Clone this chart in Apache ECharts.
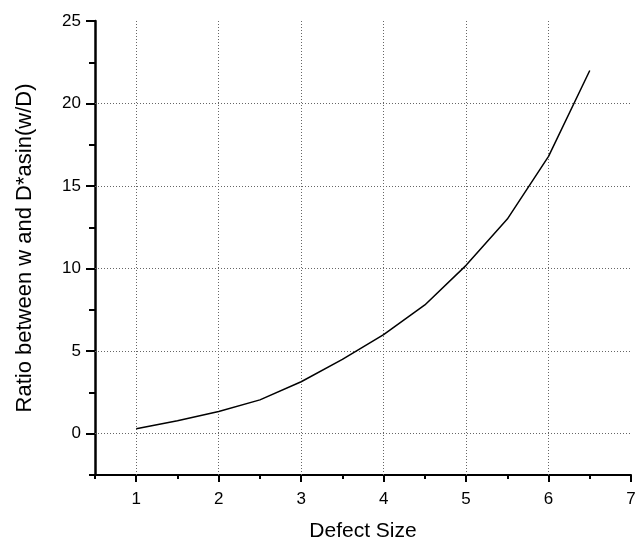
<!DOCTYPE html>
<html>
<head>
<meta charset="utf-8">
<script src="https://cdn.jsdelivr.net/npm/echarts@6/dist/echarts.min.js"></script>
<style>html,body{margin:0;padding:0;background:#fff;}#c{width:635px;height:540px;}</style>
</head>
<body>
<div id="c"></div>
<script>
// Data
const defectSize = [1, 1.5, 2, 2.5, 3, 3.5, 4, 4.5, 5, 5.5, 6, 6.5];
const ratio = [0.3, 0.78, 1.35, 2.05, 3.15, 4.5, 6.0, 7.8, 10.2, 13.0, 16.8, 22.0];
const xMajorTicks = [1, 2, 3, 4, 5, 6, 7];
const xMinorTicks = [0.5, 1.5, 2.5, 3.5, 4.5, 5.5, 6.5];
const yMajorTicks = [0, 5, 10, 15, 20, 25];
const yMinorTicks = [-2.5, 2.5, 7.5, 12.5, 17.5, 22.5];
const gridX = [1, 2, 3, 4, 5, 6];
const gridY = [0, 5, 10, 15, 20];

const font = 'Liberation Sans, Arial, sans-serif';
const chart = echarts.init(document.getElementById('c'), null, {renderer: 'canvas'});

function tickAxis(values, len) {
  return {
    type: 'value', min: 0.5, max: 7, position: 'bottom',
    axisLine: {show: false, onZero: false},
    axisTick: {show: true, inside: false, customValues: values, length: len, lineStyle: {color: '#000', width: 2}},
    axisLabel: {show: false},
    splitLine: {show: false}
  };
}
const mainX = {
  type: 'value', min: 0.5, max: 7, position: 'bottom',
  name: 'Defect Size', nameLocation: 'middle', nameGap: 46,
  nameTextStyle: {fontFamily: font, fontSize: 21, color: '#000'},
  axisLine: {show: true, onZero: false, lineStyle: {color: '#000', width: 2}},
  axisTick: {show: false},
  axisLabel: {show: true, customValues: xMajorTicks, margin: 16, fontFamily: font, fontSize: 17, color: '#000'},
  splitLine: {show: false}
};
const majorY = {
  type: 'value', min: -2.5, max: 25, position: 'left',
  name: 'Ratio between w and D*asin(w/D)', nameLocation: 'middle', nameGap: 59,
  nameTextStyle: {fontFamily: font, fontSize: 22, color: '#000'},
  axisLine: {show: true, onZero: false, lineStyle: {color: '#000', width: 2.5}},
  axisTick: {show: true, customValues: yMajorTicks, length: 9, lineStyle: {color: '#000', width: 2}},
  axisLabel: {show: true, customValues: yMajorTicks, margin: 14, fontFamily: font, fontSize: 17, color: '#000'},
  splitLine: {show: false}
};
const minorY = {
  type: 'value', min: -2.5, max: 25, position: 'left',
  axisLine: {show: false, onZero: false},
  axisTick: {show: true, customValues: yMinorTicks, length: 6, lineStyle: {color: '#000', width: 2}},
  axisLabel: {show: false},
  splitLine: {show: false}
};

const gridLineStyle = {color: '#666', width: 1, type: [1, 2]};

chart.setOption({
  animation: false,
  backgroundColor: '#fff',
  grid: {left: 95, right: 4, top: 21, height: 454, containLabel: false, outerBoundsMode: 'none'},
  xAxis: [mainX, tickAxis(xMajorTicks, 7), tickAxis(xMinorTicks, 4)],
  yAxis: [majorY, minorY],
  series: [{
    type: 'line',
    xAxisIndex: 0, yAxisIndex: 0,
    data: defectSize.map((x, i) => [x, ratio[i]]),
    showSymbol: false, symbol: 'none',
    smooth: false,
    lineStyle: {color: '#000', width: 1.5},
    z: 5,
    markLine: {
      silent: true, symbol: 'none', animation: false,
      label: {show: false},
      lineStyle: gridLineStyle,
      z: 1,
      data: gridX.map(v => ({xAxis: v})).concat(gridY.map(v => ({yAxis: v})))
    }
  }]
});
</script>
</body>
</html>
